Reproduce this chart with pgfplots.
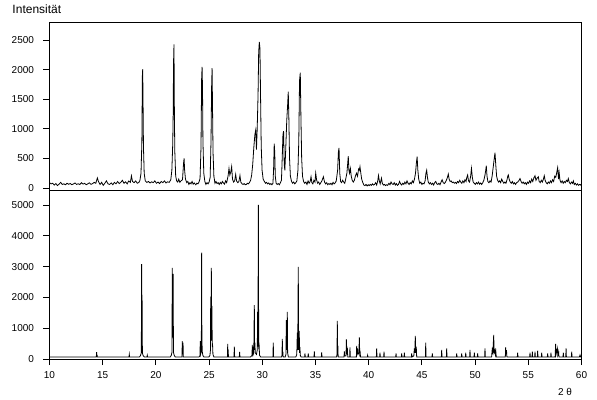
\documentclass[border=0pt]{standalone}
\usepackage{pgfplots}
\pgfplotsset{compat=1.18}
\usepackage{fontspec}
\setmainfont{Liberation Sans}
\begin{document}
\begin{tikzpicture}
\path[use as bounding box] (0pt,0pt) rectangle (597pt,399pt);
\pgfplotsset{
  xrd/.style={
    scale only axis, width=532pt,
    xmin=10, xmax=60,
    axis line style={line width=0.9pt},
    tick style={line width=0.9pt, black},
    tick align=outside, major tick length=6pt,
    ytick pos=left,
    font=\fontsize{10}{12}\selectfont,
    /pgf/number format/assume math mode=true,
    /pgf/number format/1000 sep={},
    scaled y ticks=false,
    yticklabel style={xshift=-6pt},
  }
}
\begin{axis}[xrd, at={(49.5pt,209pt)}, anchor=south west, height=167.3pt,
  ymin=-34, ymax=2797, ytick={0,500,...,2500}, xtick=\empty]
\addplot[black, line width=0.8pt] coordinates {
(10.0,90) (10.15,70) (10.3,80) (10.45,50) (10.6,75) (10.75,40) (10.9,65) (11.05,95) (11.2,60) (11.35,70)
(11.5,55) (11.65,80) (11.8,62) (11.95,75) (12.1,55) (12.25,68) (12.4,85) (12.55,60) (12.7,72) (12.85,58)
(13.0,90) (13.15,65) (13.3,78) (13.45,55) (13.6,70) (13.75,88) (13.9,62) (14.05,75) (14.2,95) (14.35,80)
(14.5,170) (14.6,110) (14.75,60) (14.9,95) (15.05,45) (15.2,80) (15.35,120) (15.5,70) (15.65,60) (15.8,85)
(15.95,55) (16.1,95) (16.25,70) (16.4,110) (16.55,75) (16.7,95) (16.85,130) (17.0,80) (17.15,105) (17.3,70)
(17.45,120) (17.6,95) (17.7,205) (17.8,110) (17.95,90) (18.1,120) (18.25,80) (18.4,95) (18.5,130) (18.6,250)
(18.68,760) (18.73,1900) (18.76,2010) (18.79,1500) (18.83,700) (18.9,250) (19.0,120) (19.15,95) (19.3,110) (19.45,85)
(19.6,105) (19.75,90) (19.9,120) (20.05,80) (20.2,100) (20.35,75) (20.5,110) (20.65,90) (20.8,120) (20.95,85)
(21.1,105) (21.25,95) (21.4,140) (21.5,300) (21.58,730) (21.62,1190) (21.66,2130) (21.70,2430) (21.74,1190) (21.78,600)
(21.86,200) (21.95,120) (22.05,100) (22.15,150) (22.25,95) (22.35,120) (22.5,140) (22.6,420) (22.65,500) (22.7,300)
(22.78,150) (22.9,90) (23.0,110) (23.1,60) (23.2,90) (23.3,70) (23.4,110) (23.5,65) (23.6,85) (23.75,55)
(23.85,80) (23.95,70) (24.05,100) (24.15,160) (24.24,700) (24.30,1860) (24.34,2050) (24.38,1700) (24.42,800) (24.5,250)
(24.6,110) (24.7,60) (24.8,90) (24.9,70) (25.0,100) (25.1,180) (25.18,800) (25.24,1740) (25.28,2030) (25.32,1400)
(25.37,600) (25.45,200) (25.55,80) (25.65,110) (25.75,75) (25.85,90) (25.95,60) (26.05,95) (26.15,70) (26.25,110)
(26.35,85) (26.45,65) (26.55,120) (26.65,90) (26.78,200) (26.87,330) (26.95,220) (27.05,280) (27.12,360) (27.2,150)
(27.3,100) (27.4,120) (27.5,230) (27.58,120) (27.7,90) (27.8,110) (27.9,210) (27.98,100) (28.1,70) (28.2,60)
(28.3,75) (28.4,55) (28.5,60) (28.6,80) (28.7,70) (28.8,95) (28.9,130) (29.0,220) (29.1,400) (29.2,680)
(29.3,900) (29.38,980) (29.45,650) (29.52,1000) (29.6,1570) (29.66,2300) (29.72,2470) (29.78,2360) (29.84,1500) (29.9,700)
(29.98,300) (30.08,150) (30.2,110) (30.3,80) (30.4,95) (30.5,70) (30.6,85) (30.7,60) (30.8,75) (30.9,55)
(31.0,80) (31.06,300) (31.12,750) (31.17,600) (31.22,200) (31.3,80) (31.4,60) (31.5,75) (31.6,55) (31.7,90)
(31.8,130) (31.88,550) (31.94,900) (32.0,960) (32.06,400) (32.12,300) (32.2,650) (32.3,1150) (32.38,1400) (32.44,1630)
(32.5,1150) (32.56,500) (32.64,200) (32.75,110) (32.85,80) (32.95,100) (33.05,70) (33.15,90) (33.25,120) (33.35,300)
(33.43,800) (33.5,1820) (33.57,1950) (33.63,1200) (33.7,500) (33.78,200) (33.88,110) (33.98,80) (34.1,100) (34.2,60)
(34.3,120) (34.4,80) (34.5,110) (34.58,190) (34.66,90) (34.75,70) (34.85,130) (34.95,100) (35.02,250) (35.1,140)
(35.2,80) (35.3,100) (35.4,60) (35.5,90) (35.6,120) (35.74,190) (35.85,100) (35.95,70) (36.05,90) (36.15,55)
(36.25,75) (36.35,60) (36.45,80) (36.55,55) (36.65,95) (36.75,70) (36.85,85) (36.95,120) (37.08,300) (37.15,600)
(37.21,680) (37.28,250) (37.36,110) (37.45,90) (37.55,130) (37.65,100) (37.75,80) (37.85,160) (37.95,250) (38.02,400)
(38.08,540) (38.14,300) (38.2,250) (38.28,330) (38.36,200) (38.45,130) (38.55,100) (38.65,130) (38.75,200) (38.85,250)
(38.95,200) (39.05,320) (39.12,300) (39.18,360) (39.26,250) (39.34,150) (39.45,90) (39.55,50) (39.65,40) (39.75,60)
(39.85,35) (39.95,55) (40.05,40) (40.15,60) (40.25,45) (40.35,70) (40.45,50) (40.55,60) (40.65,90) (40.75,50)
(40.85,120) (40.92,210) (41.0,120) (41.08,70) (41.2,165) (41.28,80) (41.38,50) (41.48,60) (41.58,40) (41.68,55)
(41.78,45) (41.9,80) (42.0,55) (42.1,100) (42.2,70) (42.3,60) (42.4,90) (42.5,50) (42.6,75) (42.7,45)
(42.8,60) (42.9,110) (43.0,70) (43.1,50) (43.2,80) (43.3,60) (43.4,100) (43.5,70) (43.6,120) (43.7,80)
(43.8,60) (43.9,90) (44.0,70) (44.1,120) (44.2,90) (44.3,150) (44.4,250) (44.48,420) (44.55,530) (44.62,300)
(44.7,150) (44.8,80) (44.9,100) (45.0,60) (45.1,80) (45.2,70) (45.3,120) (45.38,250) (45.45,300) (45.52,180)
(45.6,100) (45.7,70) (45.8,90) (45.9,60) (46.0,80) (46.1,50) (46.2,90) (46.3,110) (46.4,70) (46.5,60)
(46.6,80) (46.7,55) (46.8,100) (46.9,140) (47.0,90) (47.1,75) (47.2,95) (47.3,130) (47.4,180) (47.48,236)
(47.56,150) (47.65,110) (47.75,120) (47.85,90) (47.95,100) (48.05,80) (48.15,95) (48.25,75) (48.35,110) (48.45,90)
(48.55,130) (48.65,100) (48.75,80) (48.85,120) (48.95,90) (49.05,140) (49.15,110) (49.22,180) (49.3,220) (49.38,120)
(49.48,100) (49.58,200) (49.66,330) (49.74,180) (49.82,100) (49.92,80) (50.02,60) (50.12,90) (50.22,70) (50.32,100)
(50.42,65) (50.52,85) (50.62,60) (50.72,90) (50.82,130) (50.92,210) (51.0,300) (51.05,377) (51.12,200) (51.2,110)
(51.3,90) (51.4,120) (51.5,100) (51.6,200) (51.7,350) (51.8,500) (51.87,596) (51.94,400) (52.02,200) (52.1,140)
(52.2,100) (52.3,120) (52.4,90) (52.5,150) (52.6,110) (52.7,80) (52.8,100) (52.9,80) (53.0,140) (53.07,200)
(53.12,220) (53.2,150) (53.3,100) (53.4,80) (53.5,110) (53.6,70) (53.7,90) (53.8,60) (53.9,90) (54.0,100)
(54.1,120) (54.22,160) (54.32,110) (54.42,80) (54.52,100) (54.62,70) (54.72,90) (54.82,60) (54.92,100) (55.02,80)
(55.12,120) (55.22,90) (55.32,150) (55.42,110) (55.52,170) (55.63,208) (55.72,130) (55.8,160) (55.94,190) (56.02,110)
(56.12,90) (56.22,130) (56.32,100) (56.42,150) (56.5,208) (56.58,130) (56.68,90) (56.78,70) (56.88,100) (56.98,80)
(57.08,120) (57.18,90) (57.28,140) (57.38,110) (57.48,200) (57.58,180) (57.66,250) (57.76,345) (57.84,150) (57.9,260)
(57.98,130) (58.08,90) (58.18,120) (58.28,80) (58.38,110) (58.48,90) (58.58,130) (58.68,110) (58.76,160) (58.86,90)
(58.96,70) (59.06,100) (59.16,80) (59.23,120) (59.32,60) (59.42,80) (59.52,50) (59.62,70) (59.72,45) (59.82,60)
(59.92,50) (60.0,70)
};
\end{axis}
\begin{axis}[xrd, at={(49.5pt,40pt)}, anchor=south west, height=169pt,
  ymin=0, ymax=5487, ytick={0,1000,...,5000}, xtick={10,15,...,60}, xtick pos=left,
  xticklabel style={yshift=-3pt}]
\addplot[black, line width=0.8pt] coordinates {
(10,65) (14.40,65) (14.43,220) (14.45,130) (14.47,130) (14.50,65)
(17.47,65) (17.50,150) (17.53,65)
(18.45,65) (18.55,110) (18.63,200) (18.66,3084) (18.68,800) (18.70,2078) (18.73,200) (18.80,110) (18.92,65)
(19.16,65) (19.19,120) (19.22,65)
(21.35,65) (21.45,120) (21.51,220) (21.54,2955) (21.58,700) (21.62,2760) (21.65,220) (21.72,120) (21.82,65)
(22.45,65) (22.48,584) (22.51,150) (22.55,530) (22.58,65)
(24.05,65) (24.14,110) (24.17,580) (24.20,150) (24.27,250) (24.30,3451) (24.32,909) (24.35,250) (24.42,110) (24.52,65)
(24.98,65) (25.08,120) (25.13,300) (25.15,2023) (25.18,600) (25.21,2955) (25.24,600) (25.27,1721) (25.29,400) (25.32,510) (25.36,150) (25.45,65)
(26.72,65) (26.75,487) (26.77,200) (26.79,300) (26.82,65)
(27.34,65) (27.37,400) (27.40,65)
(27.84,65) (27.87,227) (27.90,65)
(28.90,65) (29.03,120) (29.06,455) (29.08,150) (29.10,400) (29.13,130) (29.20,200) (29.25,1753) (29.28,300) (29.30,535) (29.34,200) (29.45,150) (29.53,300) (29.56,1526) (29.59,400) (29.63,5000) (29.66,400) (29.70,450) (29.74,120) (29.85,65)
(31.00,65) (31.03,530) (31.06,65)
(31.80,65) (31.85,120) (31.88,650) (31.91,150) (31.93,240) (31.96,65)
(32.15,65) (32.22,150) (32.26,1266) (32.30,300) (32.35,1526) (32.38,200) (32.45,65)
(33.15,65) (33.24,150) (33.29,854) (33.33,300) (33.38,2987) (33.42,300) (33.47,909) (33.51,200) (33.55,280) (33.58,100) (33.66,65)
(33.98,65) (34.01,180) (34.04,65) (34.29,65) (34.32,180) (34.35,65) (34.86,65) (34.89,250) (34.92,65)
(35.55,65) (35.58,217) (35.61,65)
(36.98,65) (37.02,150) (37.05,1234) (37.08,200) (37.10,430) (37.13,65)
(37.68,65) (37.71,250) (37.74,100) (37.87,100) (37.90,634) (37.93,150) (38.00,300) (38.03,65)
(38.21,65) (38.24,380) (38.27,65)
(38.84,65) (38.87,422) (38.90,150) (38.95,340) (38.99,150) (39.08,200) (39.12,704) (39.16,150) (39.20,200) (39.23,65)
(39.87,65) (39.90,120) (39.93,65)
(40.72,65) (40.75,347) (40.78,65) (41.03,65) (41.06,205) (41.09,65) (41.41,65) (41.44,237) (41.47,65)
(42.54,65) (42.57,185) (42.60,65) (43.07,65) (43.10,185) (43.13,65) (43.32,65) (43.35,205) (43.38,65)
(44.01,65) (44.04,185) (44.07,65) (44.24,100) (44.29,347) (44.33,200) (44.38,747) (44.42,200) (44.47,400) (44.51,65)
(45.33,65) (45.36,530) (45.39,65)
(45.95,65) (45.98,185) (46.01,65)
(46.83,65) (46.86,292) (46.89,65) (47.30,65) (47.33,347) (47.36,65)
(48.24,65) (48.27,185) (48.30,65) (48.71,65) (48.74,185) (48.77,65) (49.09,65) (49.12,205) (49.15,65) (49.49,65) (49.52,292) (49.55,65) (49.90,65) (49.93,205) (49.96,65) (50.21,65) (50.24,185) (50.27,65)
(50.90,65) (50.93,347) (50.96,65)
(51.55,65) (51.62,367) (51.66,150) (51.75,779) (51.79,200) (51.87,292) (51.91,150) (51.95,237) (51.99,65)
(52.84,65) (52.87,380) (52.91,150) (52.95,290) (52.99,65)
(53.97,65) (54.00,205) (54.03,65)
(55.13,65) (55.16,205) (55.19,65) (55.35,65) (55.38,237) (55.41,65) (55.60,65) (55.63,237) (55.66,65) (55.85,65) (55.88,270) (55.91,65) (56.23,65) (56.26,205) (56.29,65)
(56.79,65) (56.82,185) (56.85,65) (57.10,65) (57.13,205) (57.16,65)
(57.52,65) (57.57,487) (57.61,150) (57.73,347) (57.77,120) (57.85,237) (57.88,65)
(58.26,65) (58.29,205) (58.32,65) (58.52,65) (58.55,347) (58.58,65) (59.05,65) (59.08,237) (59.11,65)
(59.80,65) (59.86,130) (59.92,65) (60,65)
};
\end{axis}
\node[anchor=west, inner sep=0pt, font=\fontsize{12}{14}\selectfont] at (12.3pt,390pt) {Intensität};
\node[inner sep=0pt, font=\fontsize{10}{12}\selectfont] at (565pt,7.3pt) {2 θ};
\end{tikzpicture}
\end{document}
